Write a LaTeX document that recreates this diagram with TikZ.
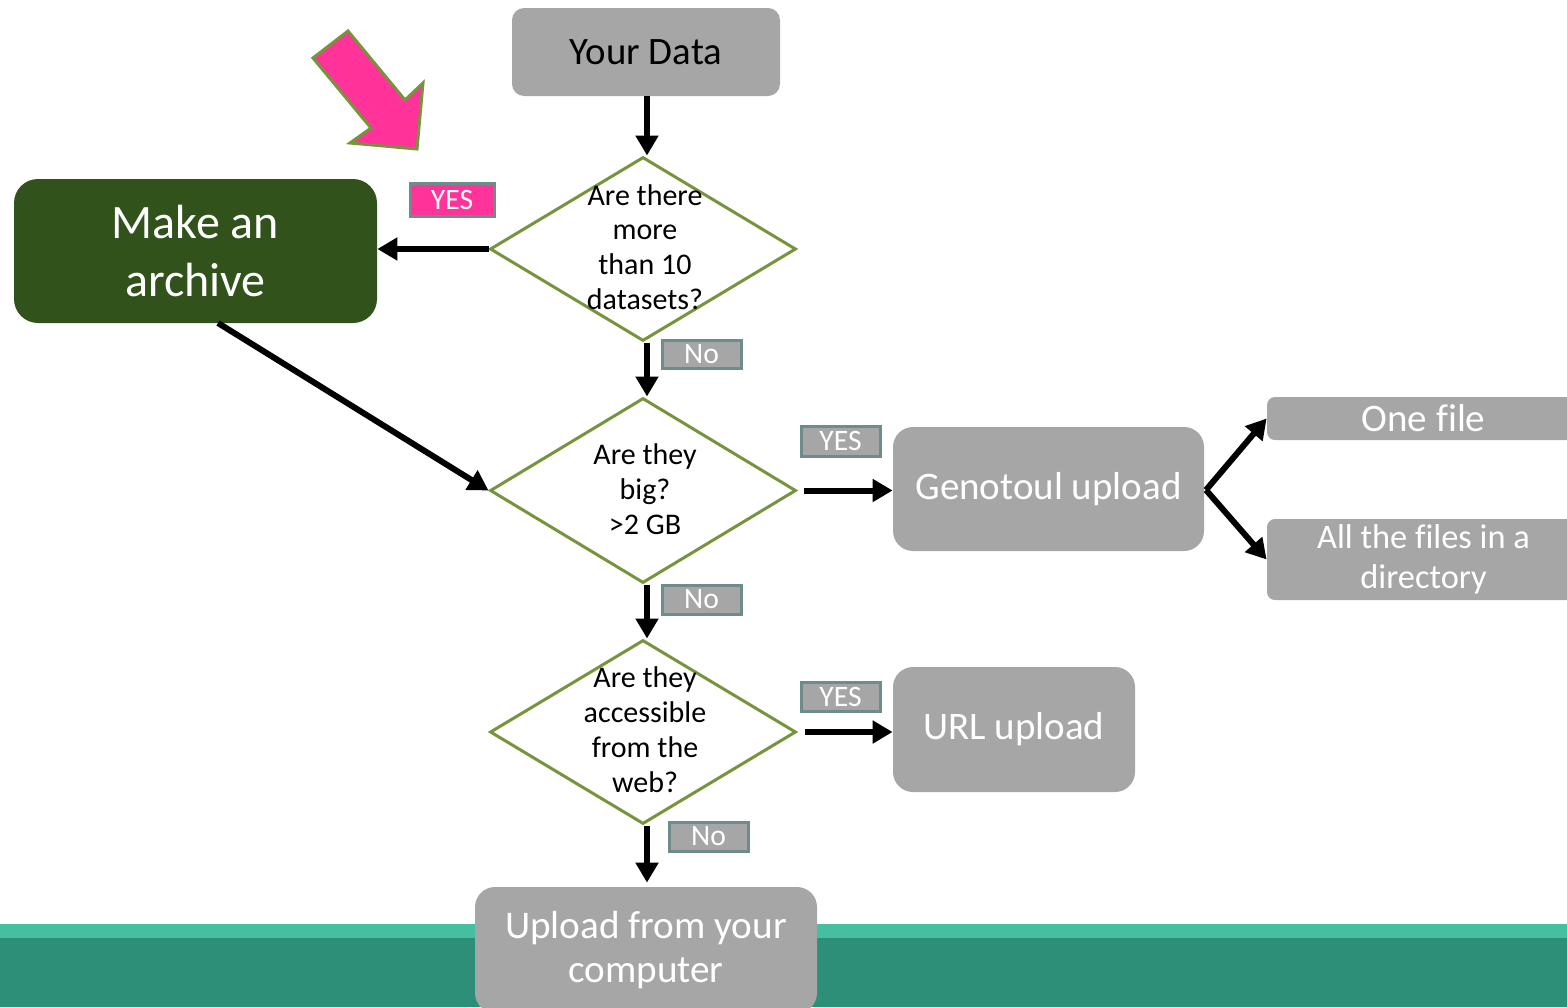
\documentclass[tikz,border=0pt]{standalone}
\usepackage{fontspec}
\setmainfont{Carlito}[Ligatures=NoCommon]
\usetikzlibrary{arrows.meta,shapes.geometric}
\definecolor{boxgray}{HTML}{A6A6A6}
\definecolor{archgreen}{HTML}{31521B}
\definecolor{olive}{HTML}{77933C}
\definecolor{hotpink}{HTML}{FF3399}
\definecolor{lblborder}{HTML}{6F8C8C}
\definecolor{tealA}{HTML}{45BFA0}
\definecolor{tealB}{HTML}{2E8F79}
\tikzset{
  gbox/.style={fill=boxgray, draw=none, text=white, align=center, inner sep=0pt},
  dia/.style={diamond, draw=olive, line width=1.5pt, fill=white, inner sep=0pt},
  dtext/.style={align=center, font=\fontsize{15}{17.4}\selectfont, inner sep=0pt},
  lbl/.style={fill=boxgray, draw=lblborder, line width=1.5pt, text=white, inner sep=0pt,
     font=\fontsize{14.8}{15}\selectfont},
  arr/.style={-{Triangle[width=11pt,length=10pt]}, line width=3pt, black},
}
\begin{document}
\begin{tikzpicture}[x=0.5pt,y=-0.5pt]
\useasboundingbox (0,0) rectangle (1567,1007);
% bottom band
\fill[tealA] (0,924) rectangle (1567,940);
\fill[tealB] (0,938) rectangle (1567,1007);

% pink arrow
\draw[fill=hotpink, draw=olive, line width=1.5pt, line join=miter]
  (313,58) -- (348,31) -- (405,100) -- (423,83) -- (417,149) -- (350,143) -- (371,128) -- cycle;

% nodes
\node[gbox, text=black, rounded corners=6pt, minimum width=134pt, minimum height=44pt,
  font=\fontsize{19.4}{22}\selectfont] (data) at (646,52) {Your Data};

\node[dia, minimum width=153pt, minimum height=92pt] (d1) at (643,249) {};
\node[dtext] (t1) at (645,247) {Are there\\more\\than 10\\datasets?};

\node[gbox, fill=archgreen, rounded corners=12pt, minimum width=181.5pt, minimum height=72pt,
  font=\fontsize{24}{29}\selectfont] (arch) at (195.5,251) {Make an\\archive};

\node[lbl, fill=hotpink, minimum width=42pt, minimum height=16.5pt] (yes1) at (452,199.5) {YES};
\node[lbl, minimum width=39.5pt, minimum height=14pt] (no1) at (701.5,354) {No};

\node[dia, minimum width=153pt, minimum height=92.5pt] (d2) at (643,490.5) {};
\node[dtext] (t2) at (645,489) {Are they\\big?\\>2 GB};

\node[lbl, minimum width=39.5pt, minimum height=15pt] (yes2) at (840.5,441) {YES};
\node[gbox, rounded corners=10pt, minimum width=155.5pt, minimum height=62pt,
  font=\fontsize{19.5}{22}\selectfont] (geno) at (1048.5,489) {Genotoul upload};

\node[gbox, rounded corners=4pt, minimum width=156.5pt, minimum height=21.5pt,
  font=\fontsize{19.5}{22}\selectfont] (one) at (1423.5,418.5) {One file};
\node[gbox, rounded corners=4pt, minimum width=156.5pt, minimum height=40.5pt,
  font=\fontsize{17.2}{20}\selectfont] (all) at (1423.5,559.5) {All the files in a\\directory};

\node[lbl, minimum width=39.5pt, minimum height=14.5pt] (no2) at (701.5,599.5) {No};

\node[dia, minimum width=153pt, minimum height=92pt] (d3) at (643,732) {};
\node[dtext] (t3) at (645,729.5) {Are they\\accessible\\from the\\web?};

\node[lbl, minimum width=39.5pt, minimum height=14.5pt] (yes3) at (840.5,696.5) {YES};
\node[gbox, rounded corners=10pt, minimum width=121pt, minimum height=62.5pt,
  font=\fontsize{19.5}{22}\selectfont] (url) at (1014,729.5) {URL upload};

\node[lbl, minimum width=39.5pt, minimum height=14.5pt] (no3) at (708.5,836.5) {No};

\node[gbox, rounded corners=10pt, minimum width=171pt, minimum height=63pt] (comp) at (646,950) {};
\node[align=center, text=white, inner sep=0pt, font=\fontsize{19.6}{22}\selectfont] (compt) at (646,950) {Upload from your\\computer};

% connectors
\draw[arr] (data.south -| 647,0) -- (d1.north -| 647,0);
\draw[arr] (d1.west) -- (arch.east |- d1.west);
\draw[arr] (d1.south -| 647,0) -- (d2.north -| 647,0);
\coordinate (archout) at (218,323);
\draw[arr] (archout) -- (d2.west);
\draw[arr] ([xshift=3pt]d2.east) -- (geno.west |- d2.east);
\coordinate (genoR) at (1206,490);
\draw[arr] (genoR) -- (one.west);
\draw[arr] (genoR) -- (all.west);
\draw[arr] (d2.south -| 647,0) -- (d3.north -| 647,0);
\draw[arr] ([xshift=3.5pt]d3.east) -- (url.west |- d3.east);
\draw[arr] (d3.south -| 647,0) -- ([yshift=2pt]comp.north -| 647,0);
\end{tikzpicture}
\end{document}
